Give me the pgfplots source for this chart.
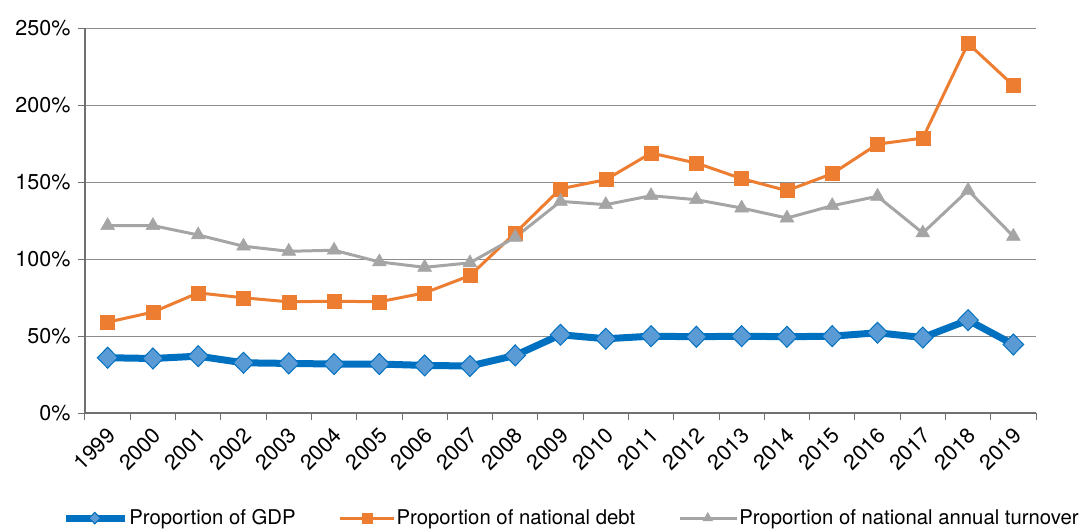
\documentclass[border=0pt]{standalone}
\usepackage{fontspec}
\setmainfont{TeX Gyre Heros}
\usepackage{pgfplots}
\pgfplotsset{compat=1.18}
\definecolor{gdpblue}{HTML}{0070C0}
\definecolor{gdpfill}{HTML}{5B9BD5}
\definecolor{debtorange}{HTML}{ED7D31}
\definecolor{turngray}{HTML}{A5A5A5}
\definecolor{gridgray}{HTML}{8C8C8C}
\definecolor{axisgray}{HTML}{707070}
\pgfplotsset{
  legA/.style={legend image code/.code={\draw[##1, every mark/.append style={scale=0.55}, mark repeat=2, mark phase=2] plot coordinates {(0pt,0pt) (29pt,0pt) (59pt,0pt)};}},
  legB/.style={legend image code/.code={\draw[##1, every mark/.append style={scale=0.75}, mark repeat=2, mark phase=2] plot coordinates {(0pt,0pt) (27pt,0pt) (54pt,0pt)};}},
  legC/.style={legend image code/.code={\draw[##1, every mark/.append style={scale=0.7}, mark repeat=2, mark phase=2] plot coordinates {(0pt,0pt) (28pt,0pt) (57pt,0pt)};}},
}
\begin{document}
\begin{tikzpicture}[x=1pt,y=1pt,font=\fontsize{21.5}{25}\selectfont]
\useasboundingbox (-85,-115) rectangle (998,413);
\begin{axis}[
  at={(0,0)}, anchor=south west,
  width=951pt, height=385pt, scale only axis,
  xmin=-0.5, xmax=20.5, ymin=0, ymax=250,
  axis lines=left,
  axis line style={-, axisgray, line width=1.2pt},
  ytick={0,50,...,250},
  yticklabel={\pgfmathprintnumber{\tick}\%},
  /pgf/number format/assume math mode=true,
  ymajorgrids, grid style={gridgray, line width=1pt},
  xtick={0,...,20},
  xticklabels={1999,2000,2001,2002,2003,2004,2005,2006,2007,2008,2009,2010,2011,2012,2013,2014,2015,2016,2017,2018,2019},
  major x tick style={draw=none},
  minor xtick={-0.5,0.5,...,20.5},
  tick align=outside,
  tick style={axisgray, line width=1pt},
  major tick length=7pt, minor tick length=7pt,
  xticklabel style={xshift=4pt, yshift=-12pt, rotate=45, anchor=east, inner sep=0pt},
  yticklabel style={xshift=-4pt},
  legend style={at={(0.511,-0.273)}, anchor=center, draw=none, fill=none,
    legend columns=3, font=\fontsize{20.3}{24}\selectfont,
    nodes={inner sep=1pt},
    /tikz/every even column/.append style={column sep=42pt}},
  legend cell align=left,
]
\addplot[color=gdpblue, line width=7pt, mark=diamond*, mark size=10.5pt,
  mark options={solid, xscale=1.3, fill=gdpfill, draw=gdpblue, line width=1pt}, legA]
coordinates {(0,35.9)(1,35.4)(2,36.9)(3,32.6)(4,32.2)(5,31.8)(6,31.8)(7,30.9)(8,30.5)(9,37.4)(10,50.8)(11,48.2)(12,49.9)(13,49.5)(14,49.9)(15,49.5)(16,49.9)(17,52.1)(18,49.0)(19,60.3)(20,44.5)};
\addlegendentry{Proportion of GDP}
\addplot[color=debtorange, line width=3pt, mark=square*, mark size=7pt,
  mark options={solid, fill=debtorange, draw=debtorange, line width=0.5pt}, legB]
coordinates {(0,59.0)(1,65.5)(2,78.0)(3,74.8)(4,72.2)(5,72.6)(6,72.2)(7,78.0)(8,89.2)(9,116.9)(10,145.6)(11,151.5)(12,168.8)(13,162.3)(14,152.2)(15,144.4)(16,155.4)(17,174.6)(18,178.5)(19,240.0)(20,212.7)};
\addlegendentry{Proportion of national debt}
\addplot[color=turngray, line width=3pt, mark=triangle*, mark size=8pt,
  mark options={solid, fill=turngray, draw=turngray, line width=0.5pt}, legC]
coordinates {(0,121.7)(1,121.7)(2,115.6)(3,108.3)(4,105.0)(5,105.7)(6,98.1)(7,94.6)(8,97.5)(9,114.1)(10,137.4)(11,135.3)(12,141.1)(13,138.5)(14,133.1)(15,126.6)(16,134.6)(17,140.7)(18,116.9)(19,144.6)(20,114.7)};
\addlegendentry{Proportion of national annual turnover}
\end{axis}
\end{tikzpicture}
\end{document}
